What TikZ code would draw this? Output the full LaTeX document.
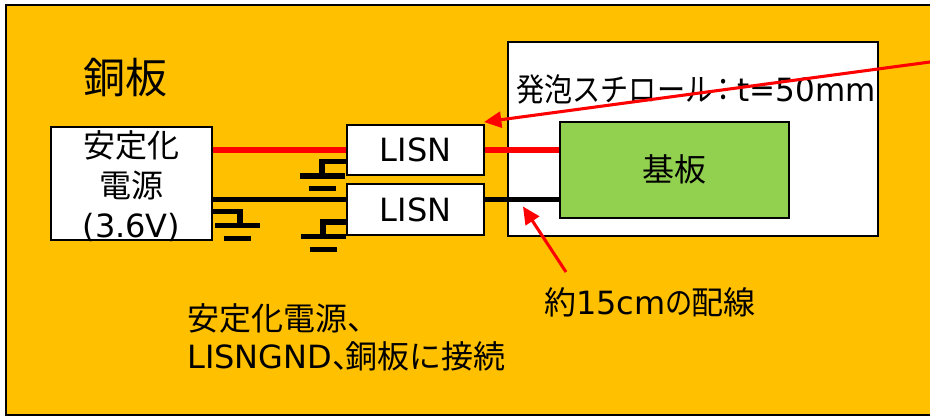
\documentclass[tikz,border=0pt]{standalone}
\usepackage{fontspec}
\setmainfont{DejaVu Sans}
\newfontfamily\cjk{Noto Sans CJK JP}
\usetikzlibrary{arrows.meta}
\definecolor{copperplate}{HTML}{FFC000}
\definecolor{boardgreen}{HTML}{92D050}
\definecolor{wirered}{HTML}{FF0000}
\tikzset{
  box/.style={draw=black, line width=1.5pt, fill=white, inner sep=0pt, font=\fontsize{24}{30}\selectfont, align=center},
  wire/thick/.style={line width=3.9pt},
  wire/gnd/.style={line width=4.1pt, black},
  callout/.style={wirered, line width=2.3pt, -{Triangle[length=13pt,width=12pt]}},
  label/big/.style={inner sep=0pt, font=\fontsize{31.5}{36}\selectfont},
  label/body/.style={inner sep=0pt, font=\fontsize{24}{28.5}\selectfont, align=left}
}

\begin{document}
\begin{tikzpicture}[x=0.75pt, y=-0.75pt]
  \useasboundingbox (0,0) rectangle (930,416);
  \fill[white] (0,0) rectangle (930,416);
  \draw[black, line width=1.5pt, fill=copperplate] (6,5) rectangle (936,414.5);
  \node[label/big] (plate) at (125.5,78) {\cjk 銅板};

  \node[box, minimum width=370pt*0.75, minimum height=194pt*0.75] (foam) at (692.5,139.5) {};
  \node[inner sep=0pt, font=\fontsize{24}{30}\selectfont, anchor=west] (foamtext) at (516,89) {\cjk\addfontfeature{FakeStretch=0.88}発泡スチロール\hspace{-3pt}：{\fontspec{DejaVu Sans}\addfontfeature{FakeStretch=0.97}t=50mm}};
  \node[box, fill=boardgreen, minimum width=229pt*0.75, minimum height=96pt*0.75] (board) at (674.5,169.7) {\cjk 基板};

  \node[box, inner ysep=-12pt, minimum width=161pt*0.75, minimum height=113pt*0.75] (psu) at (131.5,183.5) {\rule{0pt}{23.5pt}{\cjk 安定化}\\{\cjk 電源}\\(3.6V)};
  \node[box, minimum width=136.5pt*0.75, minimum height=50pt*0.75] (lisnA) at (415.7,150) {LISN};
  \node[box, minimum width=136.5pt*0.75, minimum height=50.5pt*0.75] (lisnB) at (415.7,209.7) {\raisebox{-1pt}{LISN}};

  % supply and return wires
  \coordinate (retL) at (212,199.5);
  \draw[wire/thick, wirered] (psu.east |- lisnA.west) -- (lisnA.west);
  \draw[wire/thick, wirered] (lisnA.east) -- (lisnA.east -| board.west);
  \draw[wire/gnd] (retL) -- (retL -| lisnB.west);
  \draw[wire/gnd] (retL -| lisnB.east) -- (retL -| board.west);

  % grounds
  \draw[wire/gnd] (213,211.5) -| (240,225.7);
  \draw[wire/gnd] (lisnA.west |- 0,161.7) -| (322,176);
  \draw[wire/gnd] (lisnB.west |- 0,222) -| (323,236.7);
  \foreach \gx/\gy in {237.5/225.7, 322.5/176, 323.5/236.7}
    \draw[wire/gnd] (\gx-22.5,\gy) -- (\gx+22.5,\gy) (\gx-14,\gy+12.7) -- (\gx+13.5,\gy+12.7);

  \node[label/body, anchor=west] (wirenote) at (544,302) {{\cjk 約}15cm{\cjk\addfontfeature{FakeStretch=0.85}の}{\cjk\hspace{-1pt}配線}};
  \node[label/body, anchor=north west] (gndnote) at (187,303) {{\cjk 安定化電源、}\\LISNGND{\cjk 、\hspace{-14pt}銅板に接続}};

  \coordinate (noteend) at (930,62);
  \coordinate (notetip) at (484,122);
  \coordinate (wiretail) at (566,272);
  \coordinate (wiretip) at (523,206.5);
  \draw[callout] (noteend) -- (notetip);
  \draw[callout] (wiretail) -- (wiretip);
\end{tikzpicture}
\end{document}
